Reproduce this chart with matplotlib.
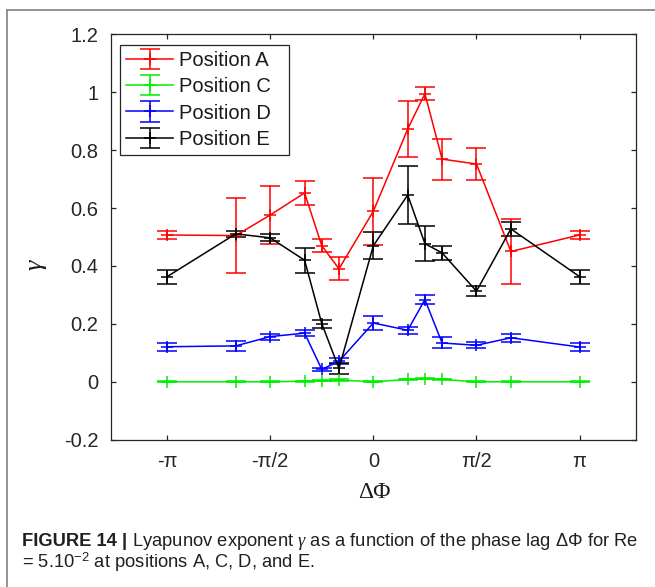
import numpy as np
import matplotlib
matplotlib.use("Agg")
import matplotlib.pyplot as plt
from matplotlib.lines import Line2D

# ---------------- data ----------------
phase = np.array([-np.pi, -2*np.pi/3, -np.pi/2, -np.pi/3, -np.pi/4, -np.pi/6, 0.0,
                  np.pi/6, np.pi/4, np.pi/3, np.pi/2, 2*np.pi/3, np.pi])

pos_A = [0.507, 0.505, 0.576, 0.652, 0.470, 0.390, 0.589, 0.873, 0.995, 0.769, 0.752, 0.450, 0.507]
err_A = [0.013, 0.130, 0.100, 0.042, 0.023, 0.040, 0.115, 0.097, 0.022, 0.071, 0.054, 0.112, 0.013]

pos_C = [0.000, 0.000, 0.000, 0.002, 0.004, 0.006, 0.000, 0.008, 0.011, 0.008, 0.000, 0.000, 0.000]
err_C = [0.002, 0.002, 0.002, 0.002, 0.002, 0.002, 0.002, 0.002, 0.002, 0.002, 0.002, 0.002, 0.002]

pos_D = [0.121, 0.124, 0.156, 0.168, 0.043, 0.071, 0.203, 0.178, 0.284, 0.134, 0.126, 0.152, 0.120]
err_D = [0.014, 0.017, 0.010, 0.010, 0.006, 0.011, 0.024, 0.012, 0.015, 0.019, 0.011, 0.013, 0.014]

pos_E = [0.363, 0.511, 0.497, 0.420, 0.201, 0.046, 0.470, 0.645, 0.477, 0.445, 0.313, 0.528, 0.363]
err_E = [0.024, 0.011, 0.012, 0.043, 0.014, 0.020, 0.047, 0.099, 0.060, 0.025, 0.017, 0.023, 0.024]

series_labels = ["Position A", "Position C", "Position D", "Position E"]
series_colors = ["#ff0000", "#00ee00", "#0000ff", "#000000"]

xtick_vals = [-np.pi, -np.pi/2, 0, np.pi/2, np.pi]
xtick_labels = ["-π", "-π/2", "0", "π/2", "π"]
ytick_vals = [-0.2, 0.0, 0.2, 0.4, 0.6, 0.8, 1.0, 1.2]
ytick_labels = ["-0.2", "0", "0.2", "0.4", "0.6", "0.8", "1", "1.2"]

caption_bold = "FIGURE 14 |"
caption_rest1 = " Lyapunov exponent $\\gamma$ as a function of the phase lag ΔΦ for Re"
caption_line2 = "= 5.10$^{-2}$ at positions A, C, D, and E."

# ---------------- style ----------------
plt.rcParams['font.family'] = ['Liberation Sans', 'DejaVu Sans']
plt.rcParams['mathtext.fontset'] = 'custom'
plt.rcParams['mathtext.rm'] = 'Liberation Sans'
plt.rcParams['mathtext.it'] = 'Liberation Serif:italic'
plt.rcParams['mathtext.bf'] = 'Liberation Sans:bold'

W, H = 655, 587
fig = plt.figure(figsize=(W/100, H/100), dpi=100)

# frame lines (top and left)
fig.add_artist(Line2D([7/W, 1.0], [1-10/H, 1-10/H], color="#8a8a8a", lw=1.3))
fig.add_artist(Line2D([7/W, 7/W], [1-10/H, 0.0], color="#8a8a8a", lw=1.3))

ax_l, ax_r, ax_t, ax_b = 110.7, 636.0, 34.3, 439.7
ax = fig.add_axes([ax_l/W, 1-ax_b/H, (ax_r-ax_l)/W, (ax_b-ax_t)/H])

spine_col = "#262626"
data = [(pos_A, err_A), (pos_C, err_C), (pos_D, err_D), (pos_E, err_E)]
handles = []
for (vals, errs), lab, col in zip(data, series_labels, series_colors):
    h = ax.errorbar(phase, vals, yerr=errs, fmt='-+', color=col, ecolor=col,
                    lw=1.1, elinewidth=1.1, capsize=7, capthick=1.1,
                    markersize=8, markeredgewidth=1.1, label=lab)
    handles.append(h)

ax.set_xlim(-4, 4)
ax.set_ylim(-0.2, 1.2)
ax.set_xticks(xtick_vals)
ax.set_xticklabels(xtick_labels)
ax.set_yticks(ytick_vals)
ax.set_yticklabels(ytick_labels)
ax.tick_params(direction='in', length=3.6, width=0.9, color=spine_col,
               top=True, right=True, labelsize=14.5, labelcolor="#262626", pad=9)
for s in ax.spines.values():
    s.set_color(spine_col)
    s.set_linewidth(0.9)

leg = ax.legend(handles=handles, labels=[l + "  " for l in series_labels],
                loc='upper left', bbox_to_anchor=((120-ax_l)/(ax_r-ax_l), (ax_b-45)/(ax_b-ax_t)),
                borderaxespad=0, fontsize=14.5, frameon=True, fancybox=False,
                framealpha=1, edgecolor=spine_col, handlelength=2.35,
                handletextpad=0.3, labelspacing=0.36, borderpad=0.3)
leg.get_frame().set_linewidth(0.9)
for t in leg.get_texts():
    t.set_color("#1a1a1a")

# axis labels
fig.text(374/W, 1-492/H, "ΔΦ", family=['Liberation Serif', 'DejaVu Serif'],
         fontsize=17, ha='center', va='center', color="#1a1a1a")
fig.text(37/W, 1-265/H, "$\\gamma$", fontsize=19, rotation=90,
         ha='center', va='center', color="#1a1a1a")

# caption
cap_family = ['Liberation Sans', 'DejaVu Sans']
renderer = fig.canvas.get_renderer()
x0 = 22/W
cap_size = 11.5
t1 = fig.text(x0, 1-546.5/H, caption_bold, family=cap_family, weight='bold',
              fontsize=cap_size, ha='left', va='baseline', color="#231f20")
t2 = fig.text(0, 1-546.5/H, caption_rest1, family=cap_family,
              fontsize=cap_size, ha='left', va='baseline', color="#231f20")
t3 = fig.text(x0, 1-568.5/H, caption_line2, family=cap_family,
              fontsize=cap_size, ha='left', va='baseline', color="#231f20")
# scale caption font so that line 1 spans 22 -> 640 px
for _ in range(3):
    w1 = t1.get_window_extent(renderer).width
    w2 = t2.get_window_extent(renderer).width
    total = w1 + w2
    scale = (640 - 22) / total
    cap_size *= scale
    for t in (t1, t2, t3):
        t.set_fontsize(cap_size)
w1 = t1.get_window_extent(renderer).width
t2.set_x(x0 + w1/W)

fig.savefig("out.png", dpi=100)
